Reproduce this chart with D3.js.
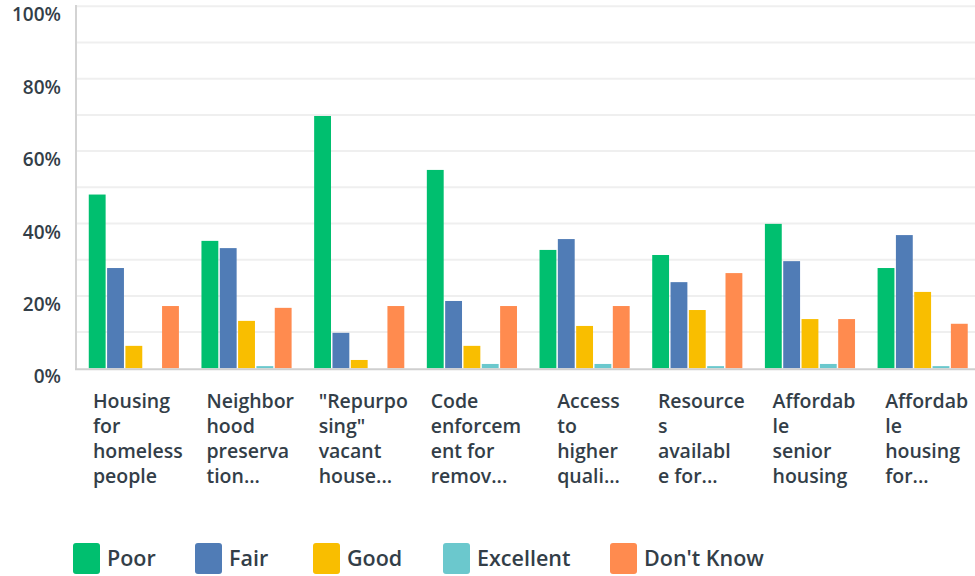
<!DOCTYPE html>
<html>
<head>
<meta charset="utf-8">
<script src="https://cdn.jsdelivr.net/npm/d3@7"></script>
<style>
  body { margin: 0; background: #fff; }
  svg { display: block; font-family: "Open Sans", sans-serif; }
  .tick-label { font-size: 19px; font-weight: 600; fill: #333e48; }
  .cat-label { font-size: 19.5px; font-weight: 600; fill: #333e48; }
  .legend-label { font-size: 21.5px; font-weight: 600; fill: #333e48; }
</style>
</head>
<body>
<div id="chart"></div>
<script>
// ---- data ----
const categories = [
  ['Housing', 'for', 'homeless', 'people'],
  ['Neighbor', 'hood', 'preserva', 'tion...'],
  ['"Repurpo', 'sing"', 'vacant', 'house...'],
  ['Code', 'enforcem', 'ent for', 'remov...'],
  ['Access', 'to', 'higher', 'quali...'],
  ['Resource', 's', 'availabl', 'e for...'],
  ['Affordab', 'le', 'senior', 'housing'],
  ['Affordab', 'le', 'housing', 'for...']
];
const seriesNames = ['Poor', 'Fair', 'Good', 'Excellent', "Don't Know"];
const poor      = [48, 35.2, 69.7, 54.8, 32.7, 31.3, 39.9, 27.7];
const fair      = [27.7, 33.2, 9.8, 18.6, 35.7, 23.8, 29.6, 36.8];
const good      = [6.2, 13.1, 2.3, 6.2, 11.7, 16.1, 13.6, 21.1];
const excellent = [0, 0.6, 0, 1.2, 1.2, 0.6, 1.2, 0.6];
const dontKnow  = [17.2, 16.7, 17.2, 17.2, 17.2, 26.3, 13.6, 12.3];
const yTicks = [0, 20, 40, 60, 80, 100];

const COLORS = ['#00bf6f', '#507cb6', '#f9be00', '#6bc8cd', '#ff8b4f'];

const seriesValues = [poor, fair, good, excellent, dontKnow];

// ---- layout ----
const width = 975, height = 576;
const plotLeft = 77, plotRight = 975, plotTop = 6.3, plotBottom = 368.3;

const svg = d3.select('#chart').append('svg')
  .attr('width', width)
  .attr('height', height);

const y = d3.scaleLinear().domain([0, 100]).range([plotBottom, plotTop]);
const x0 = d3.scaleBand()
  .domain(d3.range(categories.length))
  .range([plotLeft + 0.5, plotRight + 4])
  .paddingInner(0.2)
  .paddingOuter(0.1);
const x1 = d3.scaleBand()
  .domain(d3.range(seriesNames.length))
  .range([0, x0.bandwidth()])
  .paddingInner(0.08);

// grid lines every 10%
svg.append('g')
  .selectAll('line')
  .data(d3.range(10, 101, 10))
  .join('line')
  .attr('x1', plotLeft - 1)
  .attr('x2', plotRight)
  .attr('y1', (d) => y(d))
  .attr('y2', (d) => y(d))
  .attr('stroke', '#efefef')
  .attr('stroke-width', 2);

// y axis tick labels (sit a little below their gridlines, like the source)
svg.append('g')
  .selectAll('text')
  .data(yTicks)
  .join('text')
  .attr('class', 'tick-label')
  .attr('x', 61)
  .attr('y', (d) => y(d) + 8.5)
  .attr('dy', '0.35em')
  .attr('text-anchor', 'end')
  .text((d) => d + '%');

// bars
const groups = svg.append('g')
  .selectAll('g')
  .data(categories)
  .join('g')
  .attr('transform', (d, i) => 'translate(' + x0(i) + ',0)');

groups.selectAll('rect')
  .data((d, i) => seriesValues.map((vals, s) => ({ s, v: vals[i] })))
  .join('rect')
  .attr('x', (d) => x1(d.s))
  .attr('y', (d) => y(d.v))
  .attr('width', x1.bandwidth())
  .attr('height', (d) => y(0) - y(d.v))
  .attr('fill', (d) => COLORS[d.s]);

// axis lines
svg.append('line')
  .attr('x1', plotLeft - 1).attr('x2', plotLeft - 1)
  .attr('y1', 5).attr('y2', plotBottom + 1)
  .attr('stroke', '#d3d3d3').attr('stroke-width', 2);
svg.append('line')
  .attr('x1', plotLeft - 2).attr('x2', plotRight)
  .attr('y1', plotBottom + 1).attr('y2', plotBottom + 1)
  .attr('stroke', '#cfcfcf').attr('stroke-width', 2);

// category labels: left-aligned block centred under each group
groups.each(function (lines, i) {
  const g = d3.select(this);
  const t = g.append('text')
    .attr('class', 'cat-label')
    .attr('y', 401.5);
  lines.forEach((line, k) => {
    t.append('tspan')
      .attr('x', 0)
      .attr('dy', k === 0 ? '0.35em' : 24.8)
      .text(line);
  });
  const w = t.node().getBBox().width;
  t.attr('transform', 'translate(' + (x0.bandwidth() / 2 - w / 2 + 4) + ',0)');
});

// legend
const legendX = [73, 195, 313, 443, 610];
const legend = svg.append('g')
  .selectAll('g')
  .data(seriesNames)
  .join('g')
  .attr('transform', (d, i) => 'translate(' + legendX[i] + ',543)');

legend.append('rect')
  .attr('width', 27)
  .attr('height', 31)
  .attr('rx', 3)
  .attr('fill', (d, i) => COLORS[i]);

legend.append('text')
  .attr('class', 'legend-label')
  .attr('x', 34)
  .attr('y', 15)
  .attr('dy', '0.35em')
  .text((d) => d);
</script>
</body>
</html>
